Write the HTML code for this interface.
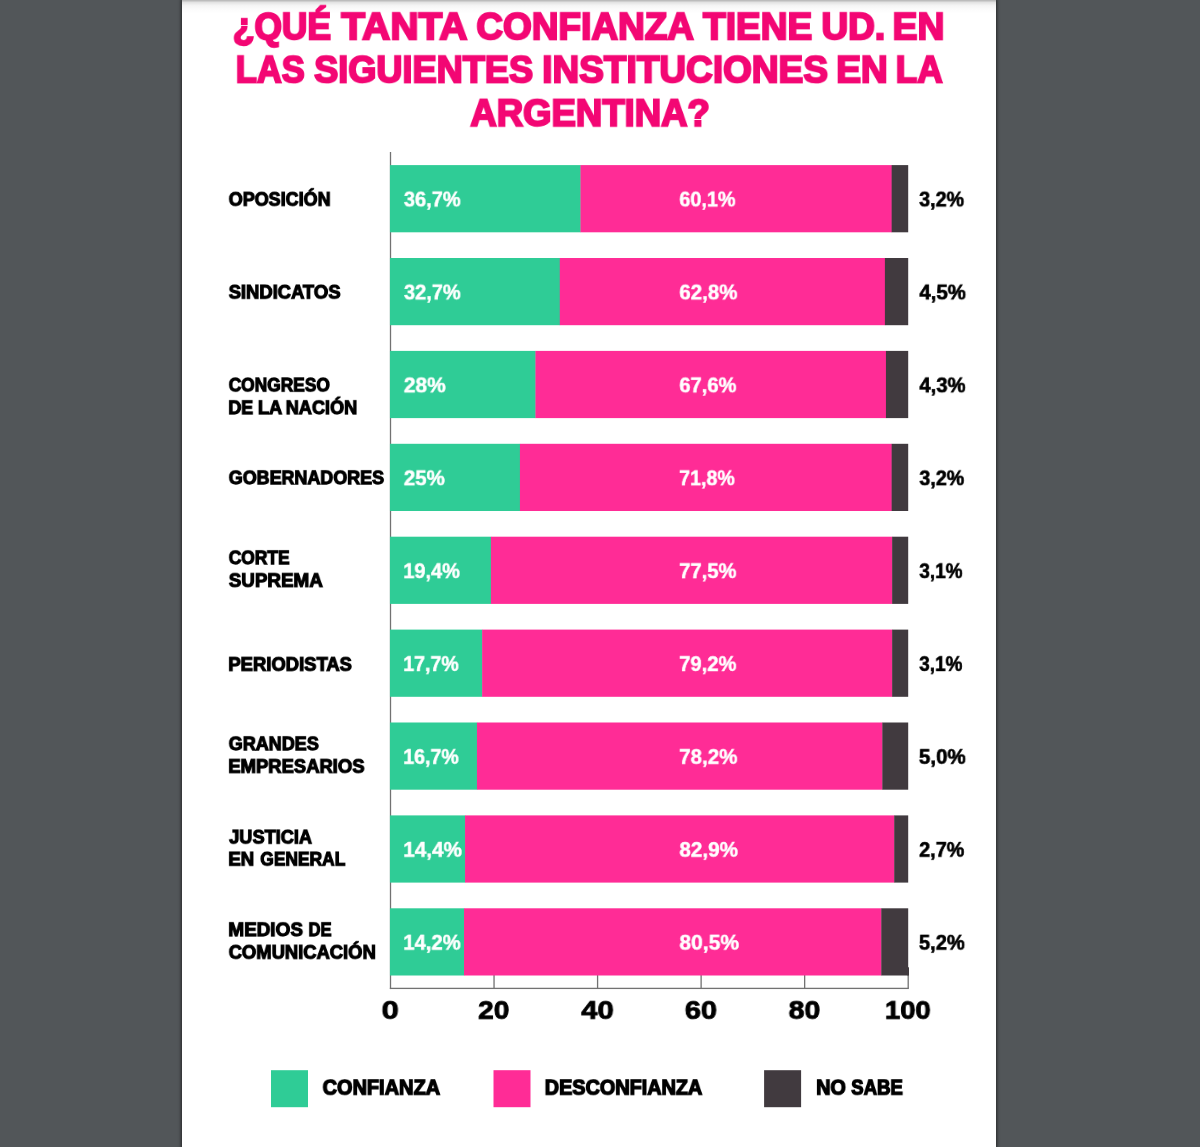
<!DOCTYPE html>
<html lang="es">
<head>
<meta charset="utf-8">
<title>¿Qué tanta confianza tiene Ud. en las siguientes instituciones en la Argentina?</title>
<style>
html,body{margin:0;padding:0}
body{width:1200px;height:1147px;overflow:hidden;background:#525659;position:relative;font-family:"Liberation Sans",sans-serif;font-weight:bold}
.page{position:absolute;left:182px;top:0;width:814px;height:1147px;background:#fff;box-shadow:0 0 3px 1px rgba(0,0,0,.55)}
.page::before{content:"";position:absolute;left:0;top:0;right:0;height:14px;background:linear-gradient(to bottom,rgba(0,0,0,.3),rgba(0,0,0,.11) 18%,rgba(0,0,0,.045) 38%,rgba(0,0,0,.015) 65%,rgba(0,0,0,0))}
.chart{position:absolute;left:0;top:0;width:1200px;height:1147px}
h1,h2,p,ul,li{margin:0;padding:0;font-size:0;list-style:none}
.t{position:absolute;left:0;top:0;display:block;margin:0;line-height:1;white-space:nowrap;transform-origin:0 0;will-change:transform;font-weight:bold;font-family:"Liberation Sans",sans-serif}
.title{color:#f30774;-webkit-text-stroke-color:#f30774}
.lab{color:#000;-webkit-text-stroke-color:#000}
.vin{color:#fff;-webkit-text-stroke-color:#fff}
.vout{color:#000;-webkit-text-stroke-color:#000}
.tick{color:#000;-webkit-text-stroke-color:#000}
.leg{color:#000;-webkit-text-stroke-color:#000}
.gfx{position:absolute;left:0;top:0;display:block}
</style>
</head>
<body>
<div class="page"></div>
<main class="chart">

<h1>
<span class="t title" style="font-size:44px;-webkit-text-stroke-width:2.4px;transform:translate(232.79px,7.99px) scale(0.8026,0.8459)">¿QUÉ</span> <span class="t title" style="font-size:44px;-webkit-text-stroke-width:2.4px;transform:translate(341.28px,7.99px) scale(0.8851,0.8459)">TANTA</span> <span class="t title" style="font-size:44px;-webkit-text-stroke-width:2.4px;transform:translate(476.35px,7.99px) scale(0.8398,0.8459)">CONFIANZA</span> <span class="t title" style="font-size:44px;-webkit-text-stroke-width:2.4px;transform:translate(703.07px,7.99px) scale(0.8421,0.8459)">TIENE</span> <span class="t title" style="font-size:44px;-webkit-text-stroke-width:2.4px;transform:translate(821.47px,7.99px) scale(0.8406,0.8459)">UD.</span> <span class="t title" style="font-size:44px;-webkit-text-stroke-width:2.4px;transform:translate(892.55px,7.99px) scale(0.8495,0.8459)">EN</span>
<span class="t title" style="font-size:44px;-webkit-text-stroke-width:2.4px;transform:translate(235.77px,51.07px) scale(0.7820,0.8461)">LAS</span> <span class="t title" style="font-size:44px;-webkit-text-stroke-width:2.4px;transform:translate(314.18px,51.07px) scale(0.8212,0.8461)">SIGUIENTES</span> <span class="t title" style="font-size:44px;-webkit-text-stroke-width:2.4px;transform:translate(542.17px,51.07px) scale(0.8411,0.8461)">INSTITUCIONES</span> <span class="t title" style="font-size:44px;-webkit-text-stroke-width:2.4px;transform:translate(836.17px,51.07px) scale(0.8452,0.8461)">EN</span> <span class="t title" style="font-size:44px;-webkit-text-stroke-width:2.4px;transform:translate(895.74px,51.07px) scale(0.7999,0.8461)">LA</span>
<span class="t title" style="font-size:44px;-webkit-text-stroke-width:2.4px;transform:translate(470.35px,94.43px) scale(0.8302,0.8472)">ARGENTINA?</span>
</h1>
<svg class="gfx" width="1200" height="1147" viewBox="0 0 1200 1147" aria-hidden="true">
<rect x="389.85" y="152.0" width="1.3" height="837.05" fill="#727272"/>
<rect x="389.85" y="987.75" width="519.00" height="1.3" fill="#727272"/>
<rect x="493.39" y="974.50" width="1.3" height="13.90" fill="#727272"/>
<rect x="596.93" y="974.50" width="1.3" height="13.90" fill="#727272"/>
<rect x="700.47" y="974.50" width="1.3" height="13.90" fill="#727272"/>
<rect x="804.01" y="974.50" width="1.3" height="13.90" fill="#727272"/>
<rect x="907.55" y="974.50" width="1.3" height="13.90" fill="#727272"/>
<rect x="907.50" y="967.3" width="1.5" height="8.20" fill="#3f393d"/>
<rect x="389.95" y="165.10" width="190.85" height="67.2" fill="#2fcc96"/><rect x="580.50" y="165.10" width="311.44" height="67.2" fill="#ff2c96"/><rect x="891.63" y="165.10" width="16.57" height="67.2" fill="#413a3f"/>
<rect x="389.95" y="258.00" width="170.14" height="67.2" fill="#2fcc96"/><rect x="559.79" y="258.00" width="325.42" height="67.2" fill="#ff2c96"/><rect x="884.90" y="258.00" width="23.30" height="67.2" fill="#413a3f"/>
<rect x="389.95" y="350.90" width="145.81" height="67.2" fill="#2fcc96"/><rect x="535.46" y="350.90" width="350.78" height="67.2" fill="#ff2c96"/><rect x="885.94" y="350.90" width="22.26" height="67.2" fill="#413a3f"/>
<rect x="389.95" y="443.80" width="130.27" height="67.2" fill="#2fcc96"/><rect x="519.92" y="443.80" width="372.01" height="67.2" fill="#ff2c96"/><rect x="891.63" y="443.80" width="16.57" height="67.2" fill="#413a3f"/>
<rect x="389.95" y="536.70" width="101.28" height="67.2" fill="#2fcc96"/><rect x="490.93" y="536.70" width="401.52" height="67.2" fill="#ff2c96"/><rect x="892.15" y="536.70" width="16.05" height="67.2" fill="#413a3f"/>
<rect x="389.95" y="629.60" width="92.48" height="67.2" fill="#2fcc96"/><rect x="482.13" y="629.60" width="410.32" height="67.2" fill="#ff2c96"/><rect x="892.15" y="629.60" width="16.05" height="67.2" fill="#413a3f"/>
<rect x="389.95" y="722.50" width="87.31" height="67.2" fill="#2fcc96"/><rect x="476.96" y="722.50" width="405.66" height="67.2" fill="#ff2c96"/><rect x="882.32" y="722.50" width="25.88" height="67.2" fill="#413a3f"/>
<rect x="389.95" y="815.40" width="75.40" height="67.2" fill="#2fcc96"/><rect x="465.05" y="815.40" width="429.47" height="67.2" fill="#ff2c96"/><rect x="894.22" y="815.40" width="13.98" height="67.2" fill="#413a3f"/>
<rect x="389.95" y="908.30" width="74.36" height="67.2" fill="#2fcc96"/><rect x="464.01" y="908.30" width="417.57" height="67.2" fill="#ff2c96"/><rect x="881.28" y="908.30" width="26.92" height="67.2" fill="#413a3f"/>
<rect x="271.00" y="1070.2" width="37.0" height="37.0" fill="#2fcc96"/>
<rect x="493.50" y="1070.2" width="37.0" height="37.0" fill="#ff2c96"/>
<rect x="764.10" y="1070.2" width="37.0" height="37.0" fill="#413a3f"/>
</svg>
<section class="row">
<h2>
<span class="t lab" style="font-size:23px;-webkit-text-stroke-width:1.4px;transform:translate(228.69px,190.62px) scale(0.7817,0.7896)">OPOSICIÓN</span>
</h2>
<p>
<span class="t vin" style="font-size:23px;-webkit-text-stroke-width:0.5px;transform:translate(403.88px,189.85px) scale(0.8705,0.8729)">36,7%</span>
<span class="t vin" style="font-size:23px;-webkit-text-stroke-width:0.5px;transform:translate(679.32px,189.85px) scale(0.8614,0.8729)">60,1%</span>
<span class="t vout" style="font-size:23px;-webkit-text-stroke-width:0.7px;transform:translate(919.18px,189.85px) scale(0.8553,0.8729)">3,2%</span>
</p>
</section>
<section class="row">
<h2>
<span class="t lab" style="font-size:23px;-webkit-text-stroke-width:1.4px;transform:translate(228.70px,283.47px) scale(0.7999,0.7910)">SINDICATOS</span>
</h2>
<p>
<span class="t vin" style="font-size:23px;-webkit-text-stroke-width:0.5px;transform:translate(403.98px,282.82px) scale(0.8694,0.8718)">32,7%</span>
<span class="t vin" style="font-size:23px;-webkit-text-stroke-width:0.5px;transform:translate(679.30px,282.82px) scale(0.8917,0.8718)">62,8%</span>
<span class="t vout" style="font-size:23px;-webkit-text-stroke-width:0.7px;transform:translate(919.38px,282.82px) scale(0.8856,0.8718)">4,5%</span>
</p>
</section>
<section class="row">
<h2>
<span class="t lab" style="font-size:23px;-webkit-text-stroke-width:1.4px;transform:translate(228.69px,376.34px) scale(0.7540,0.7913)">CONGRESO</span>
<span class="t lab" style="font-size:23px;-webkit-text-stroke-width:1.4px;transform:translate(228.39px,398.96px) scale(0.7762,0.7910)">DE</span> <span class="t lab" style="font-size:23px;-webkit-text-stroke-width:1.4px;transform:translate(257.88px,398.96px) scale(0.7924,0.7910)">LA</span> <span class="t lab" style="font-size:23px;-webkit-text-stroke-width:1.4px;transform:translate(285.74px,398.96px) scale(0.7879,0.7910)">NACIÓN</span>
</h2>
<p>
<span class="t vin" style="font-size:23px;-webkit-text-stroke-width:0.5px;transform:translate(403.82px,375.75px) scale(0.9116,0.8722)">28%</span>
<span class="t vin" style="font-size:23px;-webkit-text-stroke-width:0.5px;transform:translate(679.31px,375.75px) scale(0.8757,0.8722)">67,6%</span>
<span class="t vout" style="font-size:23px;-webkit-text-stroke-width:0.7px;transform:translate(919.37px,375.75px) scale(0.8804,0.8722)">4,3%</span>
</p>
</section>
<section class="row">
<h2>
<span class="t lab" style="font-size:23px;-webkit-text-stroke-width:1.4px;transform:translate(228.70px,469.02px) scale(0.7792,0.7937)">GOBERNADORES</span>
</h2>
<p>
<span class="t vin" style="font-size:23px;-webkit-text-stroke-width:0.5px;transform:translate(403.82px,468.67px) scale(0.8922,0.8711)">25%</span>
<span class="t vin" style="font-size:23px;-webkit-text-stroke-width:0.5px;transform:translate(679.20px,468.67px) scale(0.8523,0.8711)">71,8%</span>
<span class="t vout" style="font-size:23px;-webkit-text-stroke-width:0.7px;transform:translate(919.34px,468.67px) scale(0.8549,0.8711)">3,2%</span>
</p>
</section>
<section class="row">
<h2>
<span class="t lab" style="font-size:23px;-webkit-text-stroke-width:1.4px;transform:translate(228.72px,549.02px) scale(0.7559,0.7937)">CORTE</span>
<span class="t lab" style="font-size:23px;-webkit-text-stroke-width:1.4px;transform:translate(228.77px,571.79px) scale(0.8171,0.7872)">SUPREMA</span>
</h2>
<p>
<span class="t vin" style="font-size:23px;-webkit-text-stroke-width:0.5px;transform:translate(403.27px,561.57px) scale(0.8682,0.8699)">19,4%</span>
<span class="t vin" style="font-size:23px;-webkit-text-stroke-width:0.5px;transform:translate(679.20px,561.57px) scale(0.8778,0.8699)">77,5%</span>
<span class="t vout" style="font-size:23px;-webkit-text-stroke-width:0.7px;transform:translate(919.31px,561.57px) scale(0.8237,0.8699)">3,1%</span>
</p>
</section>
<section class="row">
<h2>
<span class="t lab" style="font-size:23px;-webkit-text-stroke-width:1.4px;transform:translate(228.39px,655.67px) scale(0.8010,0.7898)">PERIODISTAS</span>
</h2>
<p>
<span class="t vin" style="font-size:23px;-webkit-text-stroke-width:0.5px;transform:translate(403.27px,654.50px) scale(0.8504,0.8632)">17,7%</span>
<span class="t vin" style="font-size:23px;-webkit-text-stroke-width:0.5px;transform:translate(679.20px,654.50px) scale(0.8776,0.8632)">79,2%</span>
<span class="t vout" style="font-size:23px;-webkit-text-stroke-width:0.7px;transform:translate(919.20px,654.50px) scale(0.8241,0.8632)">3,1%</span>
</p>
</section>
<section class="row">
<h2>
<span class="t lab" style="font-size:23px;-webkit-text-stroke-width:1.4px;transform:translate(228.68px,735.02px) scale(0.7834,0.7937)">GRANDES</span>
<span class="t lab" style="font-size:23px;-webkit-text-stroke-width:1.4px;transform:translate(228.39px,757.67px) scale(0.8006,0.7898)">EMPRESARIOS</span>
</h2>
<p>
<span class="t vin" style="font-size:23px;-webkit-text-stroke-width:0.5px;transform:translate(403.26px,747.40px) scale(0.8508,0.8641)">16,7%</span>
<span class="t vin" style="font-size:23px;-webkit-text-stroke-width:0.5px;transform:translate(679.16px,747.40px) scale(0.8935,0.8641)">78,2%</span>
<span class="t vout" style="font-size:23px;-webkit-text-stroke-width:0.7px;transform:translate(918.87px,747.40px) scale(0.8935,0.8641)">5,0%</span>
</p>
</section>
<section class="row">
<h2>
<span class="t lab" style="font-size:23px;-webkit-text-stroke-width:1.4px;transform:translate(229.16px,828.43px) scale(0.7903,0.7915)">JUSTICIA</span>
<span class="t lab" style="font-size:23px;-webkit-text-stroke-width:1.4px;transform:translate(228.38px,850.47px) scale(0.8084,0.7910)">EN</span> <span class="t lab" style="font-size:23px;-webkit-text-stroke-width:1.4px;transform:translate(260.30px,850.47px) scale(0.7555,0.7910)">GENERAL</span>
</h2>
<p>
<span class="t vin" style="font-size:23px;-webkit-text-stroke-width:0.5px;transform:translate(403.21px,840.33px) scale(0.9006,0.8619)">14,4%</span>
<span class="t vin" style="font-size:23px;-webkit-text-stroke-width:0.5px;transform:translate(679.37px,840.33px) scale(0.8985,0.8619)">82,9%</span>
<span class="t vout" style="font-size:23px;-webkit-text-stroke-width:0.7px;transform:translate(919.20px,840.33px) scale(0.8585,0.8619)">2,7%</span>
</p>
</section>
<section class="row">
<h2>
<span class="t lab" style="font-size:23px;-webkit-text-stroke-width:1.4px;transform:translate(228.37px,920.96px) scale(0.8217,0.7910)">MEDIOS</span> <span class="t lab" style="font-size:23px;-webkit-text-stroke-width:1.4px;transform:translate(308.56px,920.96px) scale(0.7199,0.7910)">DE</span>
<span class="t lab" style="font-size:23px;-webkit-text-stroke-width:1.4px;transform:translate(228.68px,943.60px) scale(0.7991,0.7916)">COMUNICACIÓN</span>
</h2>
<p>
<span class="t vin" style="font-size:23px;-webkit-text-stroke-width:0.5px;transform:translate(403.25px,933.08px) scale(0.8810,0.8709)">14,2%</span>
<span class="t vin" style="font-size:23px;-webkit-text-stroke-width:0.5px;transform:translate(679.39px,933.08px) scale(0.9150,0.8709)">80,5%</span>
<span class="t vout" style="font-size:23px;-webkit-text-stroke-width:0.7px;transform:translate(918.92px,933.08px) scale(0.8740,0.8709)">5,2%</span>
</p>
</section>
<ul class="axis-labels">
<li><span class="t tick" style="font-size:33px;-webkit-text-stroke-width:1px;transform:translate(381.62px,997.40px) scale(0.9338,0.7617)">0</span></li>
<li><span class="t tick" style="font-size:30px;-webkit-text-stroke-width:1px;transform:translate(478.15px,996.85px) scale(0.9329,0.8752)">20</span></li>
<li><span class="t tick" style="font-size:31px;-webkit-text-stroke-width:1px;transform:translate(581.22px,998.02px) scale(0.9435,0.7962)">40</span></li>
<li><span class="t tick" style="font-size:31px;-webkit-text-stroke-width:1px;transform:translate(684.84px,998.02px) scale(0.9322,0.7973)">60</span></li>
<li><span class="t tick" style="font-size:30px;-webkit-text-stroke-width:1px;transform:translate(788.66px,996.84px) scale(0.9443,0.8741)">80</span></li>
<li><span class="t tick" style="font-size:29px;-webkit-text-stroke-width:1px;transform:translate(884.91px,997.73px) scale(0.9454,0.8750)">100</span></li>
</ul>
<ul class="legend">
<li><span class="t leg" style="font-size:25px;-webkit-text-stroke-width:1.6px;transform:translate(322.63px,1077.22px) scale(0.7978,0.8262)">CONFIANZA</span></li>
<li><span class="t leg" style="font-size:25px;-webkit-text-stroke-width:1.6px;transform:translate(544.73px,1077.22px) scale(0.7933,0.8262)">DESCONFIANZA</span></li>
<li><span class="t leg" style="font-size:25px;-webkit-text-stroke-width:1.6px;transform:translate(816.18px,1077.22px) scale(0.7909,0.8262)">NO</span> <span class="t leg" style="font-size:25px;-webkit-text-stroke-width:1.6px;transform:translate(851.21px,1077.22px) scale(0.7431,0.8262)">SABE</span></li>
</ul>
</main>
</body>
</html>
